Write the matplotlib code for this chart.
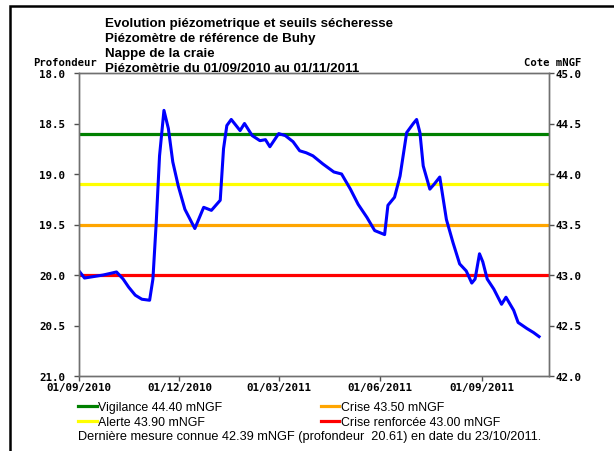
import pandas as pd
import matplotlib
matplotlib.use("Agg")
import matplotlib.pyplot as plt
import matplotlib.dates as mdates
from matplotlib.font_manager import FontProperties
from matplotlib.patches import Rectangle

# Piezometer readings (depth in m)
dates = [
    "2010-09-01", "2010-09-06", "2010-09-23", "2010-10-05", "2010-10-11",
    "2010-10-16", "2010-10-22", "2010-10-28", "2010-11-04", "2010-11-07",
    "2010-11-10", "2010-11-13", "2010-11-17", "2010-11-21", "2010-11-25",
    "2010-11-30", "2010-12-06", "2010-12-15", "2010-12-23", "2010-12-30",
    "2011-01-07", "2011-01-10", "2011-01-13", "2011-01-17", "2011-01-25",
    "2011-01-29", "2011-02-05", "2011-02-12", "2011-02-17", "2011-02-21",
    "2011-03-01", "2011-03-07", "2011-03-14", "2011-03-20", "2011-03-26",
    "2011-04-01", "2011-04-10", "2011-04-20", "2011-04-27", "2011-05-05",
    "2011-05-12", "2011-05-20", "2011-05-27", "2011-06-05", "2011-06-08",
    "2011-06-14", "2011-06-19", "2011-06-25", "2011-07-01", "2011-07-04",
    "2011-07-07", "2011-07-10", "2011-07-16", "2011-07-20", "2011-07-25",
    "2011-07-31", "2011-08-06", "2011-08-12", "2011-08-18", "2011-08-23",
    "2011-08-26", "2011-08-30", "2011-09-02", "2011-09-06", "2011-09-12",
    "2011-09-19", "2011-09-23", "2011-09-30", "2011-10-04", "2011-10-12",
    "2011-10-18", "2011-10-23",
]
depth = [
    19.96, 20.03, 20.00, 19.97, 20.04,
    20.12, 20.20, 20.24, 20.25, 20.04,
    19.48, 18.82, 18.37, 18.55, 18.88,
    19.12, 19.35, 19.54, 19.33, 19.36,
    19.26, 18.75, 18.52, 18.46, 18.57,
    18.50, 18.62, 18.67, 18.66, 18.73,
    18.60, 18.62, 18.68, 18.77, 18.79,
    18.82, 18.90, 18.98, 19.00, 19.15,
    19.30, 19.43, 19.56, 19.60, 19.31,
    19.23, 19.02, 18.59, 18.50, 18.46,
    18.59, 18.92, 19.15, 19.10, 19.03,
    19.45, 19.68, 19.89, 19.96, 20.08,
    20.04, 19.79, 19.87, 20.04, 20.14,
    20.29, 20.22, 20.35, 20.47, 20.53,
    20.57, 20.61,
]

# Drought thresholds (cote mNGF)
seuil_noms = ["Vigilance", "Alerte", "Crise", "Crise renforcée"]
seuil_cotes = [44.40, 43.90, 43.50, 43.00]
seuil_couleurs = ["#008000", "#ffff00", "#ffa500", "#ff0000"]

ref_cote = 63.0  # cote = ref_cote - profondeur
x_ticks = ["2010-09-01", "2010-12-01", "2011-03-01", "2011-06-01", "2011-09-01"]
y_left_ticks = [18.0, 18.5, 19.0, 19.5, 20.0, 20.5, 21.0]
y_right_ticks = [45.0, 44.5, 44.0, 43.5, 43.0, 42.5, 42.0]

titres = [
    "Evolution piézometrique et seuils sécheresse",
    "Piézomètre de référence de Buhy",
    "Nappe de la craie",
    "Piézomètrie du 01/09/2010 au 01/11/2011",
]

W, H = 614, 452
fig = plt.figure(figsize=(W / 100, H / 100), dpi=100)
ax = fig.add_axes([79 / W, 1 - 377 / H, 470 / W, 303 / H])

mono = dict(family="DejaVu Sans Mono", weight="bold", size=7.8)

handles = []
for nom, cote, coul in zip(seuil_noms, seuil_cotes, seuil_couleurs):
    h = ax.axhline(ref_cote - cote, color=coul, lw=2.3,
                   label=f"{nom} {cote:.2f} mNGF")
    handles.append(h)

df = pd.DataFrame({"date": pd.to_datetime(dates), "depth": depth})
ax.plot(df["date"], df["depth"], color="#0000ff", lw=2.2)

ax.set_xlim(pd.Timestamp("2010-09-01"), pd.Timestamp("2011-11-01"))
ax.set_ylim(21.0, 18.0)
ax.set_yticks(y_left_ticks)
ax.set_yticklabels([f"{v:.1f}" for v in y_left_ticks], fontdict=mono)
ax.set_xticks(pd.to_datetime(x_ticks))
ax.xaxis.set_major_formatter(mdates.DateFormatter("%d/%m/%Y"))
for lbl in ax.get_xticklabels():
    lbl.set_fontproperties(FontProperties(**mono))

ax2 = ax.twinx()
ax2.set_ylim(ref_cote - 21.0, ref_cote - 18.0)
ax2.set_yticks(y_right_ticks)
ax2.set_yticklabels([f"{v:.1f}" for v in y_right_ticks], fontdict=mono)

for a in (ax, ax2):
    for s in a.spines.values():
        s.set_color("#707070")
        s.set_linewidth(1)
    a.tick_params(length=3.5, width=1, color="#505050", labelcolor="black")
ax.tick_params(axis="y", pad=6.5)
ax.tick_params(axis="x", pad=1)
ax2.tick_params(axis="y", pad=1.5)

# titles
for i, t in enumerate(titres):
    fig.text(105 / W, 1 - (23.5 + i * 15.3) / H, t, ha="left", va="center",
             family="Liberation Sans", weight="bold", fontsize=9.6)

fig.text(33 / W, 1 - 63 / H, "Profondeur", ha="left", va="center",
         family="DejaVu Sans Mono", weight="bold", fontsize=7.6)
fig.text(581 / W, 1 - 63 / H, "Cote mNGF", ha="right", va="center",
         family="DejaVu Sans Mono", weight="bold", fontsize=7.6)

fig.legend(handles=handles, ncol=2, loc="upper left",
           bbox_to_anchor=(78 / W, 1 - 402 / H), frameon=False,
           prop=dict(family="Liberation Sans", size=8.9),
           handlelength=1.5, handletextpad=0.1, columnspacing=8.0,
           labelspacing=0.25, borderpad=0, borderaxespad=0)

fig.text(78 / W, 1 - 437 / H,
         "Dernière mesure connue 42.39 mNGF (profondeur  20.61) en date du 23/10/2011.",
         ha="left", va="center", family="Liberation Sans", fontsize=9.15)

# outer frame
fig.add_artist(Rectangle((10 / W, -0.2), 1.2, 1.2 - 7 / H,
                         transform=fig.transFigure, fill=False,
                         edgecolor="black", lw=1.8))

fig.savefig("out.png", dpi=100)
